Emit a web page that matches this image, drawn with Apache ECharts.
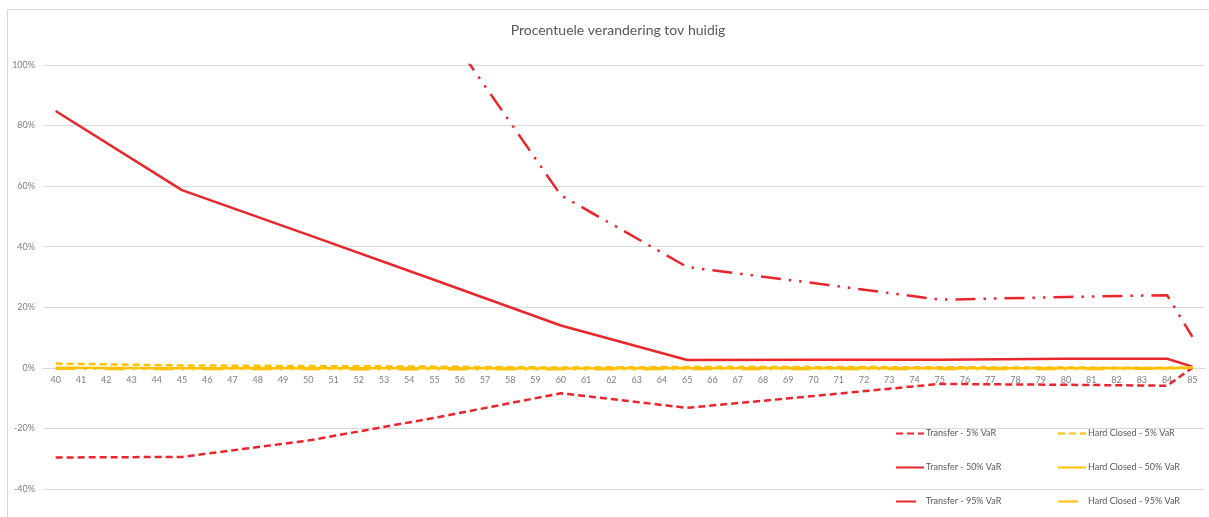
<!DOCTYPE html>
<html>
<head>
<meta charset="utf-8">
<script src="https://cdn.jsdelivr.net/npm/echarts@6/dist/echarts.min.js"></script>
<style>
  html, body { margin: 0; padding: 0; background: #ffffff; }
  #chart { width: 1209px; height: 517px; }
</style>
</head>
<body>
<div id="chart"></div>
<script>
// Ages on the category axis
const ages = ['40','41','42','43','44','45','46','47','48','49','50','51','52','53','54','55','56','57','58','59',
  '60','61','62','63','64','65','66','67','68','69','70','71','72','73','74','75','76','77','78','79',
  '80','81','82','83','84','85'];

// Ages at which the scenarios are evaluated (other ages are bridged by the line)
const pointAges = ['40','45','50','55','60','65','70','75','80','84','85'];

// Percentage change versus current, per scenario (aligned with pointAges)
const transfer5  = [-29.6, -29.4, -24.0, -16.5, -8.4, -13.2, -9.3, -5.3, -5.6, -5.9, 0.0];
const transfer50 = [84.8, 58.7, 43.9, 29.0, 14.0, 2.6, 2.7, 2.7, 3.0, 3.0, 0.4];
const transfer95 = [null, null, null, 117.0, 57.0, 33.3, 28.0, 22.5, 23.4, 24.0, 10.2];
const hardClosed5  = [1.4, 0.8, 0.6, 0.4, 0.1, 0.3, 0.3, 0.2, 0.1, 0.0, 0.0];
const hardClosed50 = [0.0, -0.1, -0.1, -0.1, -0.2, -0.1, -0.1, -0.1, -0.1, -0.1, 0.0];
const hardClosed95 = [-0.3, -0.4, -0.4, -0.5, -0.5, -0.4, -0.4, -0.4, -0.4, -0.3, 0.0];

const yTicks = { min: -40, max: 100, interval: 20 };

const RED = '#E8262C';
const YELLOW = '#FFC000';
const GREY_TEXT = '#595959';
const GRID = '#D9D9D9';
const FONT = 'Lato, "Open Sans", sans-serif';

// plot area geometry
const PLOT_TOP = 65;
const PLOT_BOTTOM = 28;
const PLOT_HEIGHT = 517 - PLOT_TOP - PLOT_BOTTOM;
// distance from the bottom of the plot up to the 0% line
const zeroLift = PLOT_HEIGHT * (0 - yTicks.min) / (yTicks.max - yTicks.min);

function onAges(values) {
  return ages.map(a => {
    const i = pointAges.indexOf(a);
    return i >= 0 ? values[i] : null;
  });
}

const dashShort = [7, 4];
const dashDotDot = [20, 8, 2.5, 8, 2.5, 8];

function line(name, values, color, type) {
  return {
    name: name,
    type: 'line',
    data: onAges(values),
    connectNulls: true,
    symbol: 'none',
    clip: true,
    lineStyle: { color: color, width: 2.5, type: type, cap: 'butt' },
    itemStyle: { color: color },
    emphasis: { disabled: true }
  };
}

const legendBase = {
  orient: 'vertical',
  top: 424,
  itemWidth: 28,
  itemHeight: 10,
  itemGap: 25,
  itemStyle: { opacity: 0 },
  textStyle: { fontFamily: FONT, fontSize: 9, color: GREY_TEXT, padding: [0, 0, 0, -3] }
};

const chart = echarts.init(document.getElementById('chart'), null, { renderer: 'canvas' });

chart.setOption({
  animation: false,
  backgroundColor: '#ffffff',
  graphic: [{
    type: 'rect',
    shape: { x: 7.5, y: 9.5, width: 1400, height: 700 },
    style: { fill: 'none', stroke: GRID, lineWidth: 1 },
    silent: true,
    z: -1
  }],
  title: {
    text: 'Procentuele verandering tov huidig',
    left: 613,
    textAlign: 'center',
    top: 18,
    textStyle: { fontFamily: FONT, fontSize: 14, fontWeight: 'normal', color: GREY_TEXT }
  },
  grid: { left: 43, right: 4, top: PLOT_TOP, bottom: PLOT_BOTTOM, containLabel: false },
  xAxis: {
    type: 'category',
    data: ages,
    boundaryGap: true,
    position: 'bottom',
    offset: -zeroLift,
    axisLine: { onZero: false, lineStyle: { color: GRID, width: 1 } },
    axisTick: { show: false },
    axisLabel: { color: '#7F7F7F', fontFamily: FONT, fontSize: 9, margin: 8, interval: 0 },
    splitLine: { show: false }
  },
  yAxis: {
    type: 'value',
    min: yTicks.min,
    max: yTicks.max,
    interval: yTicks.interval,
    axisLine: { show: false },
    axisTick: { show: false },
    axisLabel: { color: '#7F7F7F', fontFamily: FONT, fontSize: 9, margin: 8, formatter: '{value}%' },
    splitLine: { lineStyle: { color: GRID, width: 1 } }
  },
  legend: [
    Object.assign({}, legendBase, {
      left: 890,
      data: ['Transfer - 5% VaR', 'Transfer - 50% VaR', 'Transfer - 95% VaR']
    }),
    Object.assign({}, legendBase, {
      left: 1052,
      data: ['Hard Closed - 5% VaR', 'Hard Closed - 50% VaR', 'Hard Closed - 95% VaR']
    })
  ],
  series: [
    line('Transfer - 5% VaR', transfer5, RED, dashShort),
    line('Transfer - 50% VaR', transfer50, RED, 'solid'),
    line('Transfer - 95% VaR', transfer95, RED, dashDotDot),
    line('Hard Closed - 5% VaR', hardClosed5, YELLOW, dashShort),
    line('Hard Closed - 50% VaR', hardClosed50, YELLOW, 'solid'),
    line('Hard Closed - 95% VaR', hardClosed95, YELLOW, dashDotDot)
  ]
});
</script>
</body>
</html>
